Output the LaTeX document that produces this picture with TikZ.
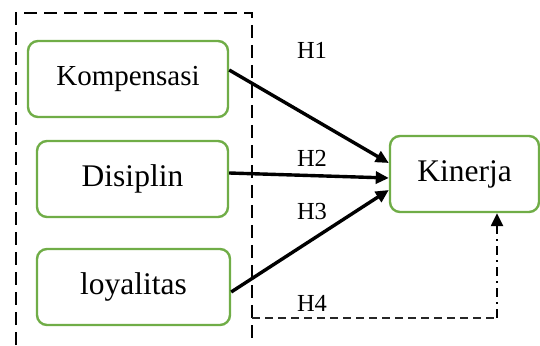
\documentclass[tikz,border=0pt]{standalone}
\usepackage{fontspec}
\setmainfont{Liberation Serif}
\usetikzlibrary{arrows.meta,calc}
\definecolor{boxgreen}{RGB}{112,173,71}
\tikzset{
  var/.style={draw=boxgreen, line width=2.4pt, rounded corners=10pt, fill=white,
    minimum height=76pt, inner sep=0pt, font=\fontsize{31.5}{36}\selectfont},
  path arrow/.style={line width=3.4pt, -{Triangle[length=13pt,width=12pt]}},
  hyp/.style={font=\fontsize{24.5}{28}\selectfont, inner sep=0pt},
  groupframe/.style={line width=2.4pt, dash pattern=on 13pt off 7pt},
}
\begin{document}
\begin{tikzpicture}[x=1pt,y=1pt]
  \useasboundingbox (0,0) rectangle (540,345);

  % frame around the independent variables
  \draw[groupframe] (16,0) -- (16,332) -- (252,332) -- (252,0);

  % variables
  \node[var, minimum width=200pt, font=\fontsize{29}{34}\selectfont] (komp) at (128,266) {Kompensasi};
  \node[var, minimum width=191pt] (disi) at (132.5,166) {Disiplin};
  \node[var, minimum width=193pt] (loya) at (133.5,58) {loyalitas};
  \node[var, minimum width=149pt] (kine) at (464.5,171) {Kinerja};

  % direct effects
  \draw[path arrow] ([yshift=9pt]komp.east) -- ([yshift=11pt]kine.west);
  \draw[path arrow] ([yshift=6pt]disi.east) -- ([yshift=-4pt]kine.west);
  \draw[path arrow] ([yshift=-5pt]loya.east) -- ([yshift=-16pt]kine.west);

  % joint effect
  \coordinate (h4a) at (252,27);
  \coordinate (h4b) at (497,27);
  \draw[line width=1.8pt, draw=black!85, dash pattern=on 8pt off 5pt] (h4a) -- (h4b);
  \draw[line width=2.4pt, dash pattern=on 9pt off 5pt on 2pt off 5pt,
        -{Triangle[length=13pt,width=12pt]}] (h4b) -- (h4b |- kine.south);

  % hypothesis labels
  \node[hyp] (h1) at (312,295) {H1};
  \node[hyp] (h2) at (312,187) {H2};
  \node[hyp] (h3) at (312,133) {H3};
  \node[hyp] (h4) at (312,42) {H4};
\end{tikzpicture}
\end{document}
